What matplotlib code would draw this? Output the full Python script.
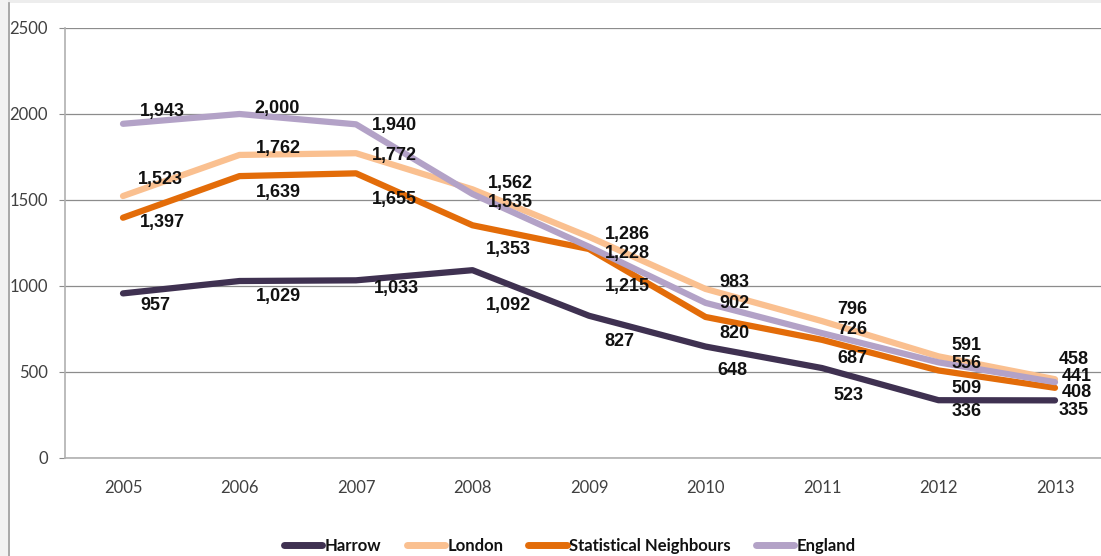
import matplotlib

matplotlib.use("Agg")
import matplotlib.pyplot as plt
from matplotlib.patches import Rectangle
from matplotlib.lines import Line2D

years = ["2005", "2006", "2007", "2008", "2009", "2010", "2011", "2012", "2013"]
harrow = [957, 1029, 1033, 1092, 827, 648, 523, 336, 335]
london = [1523, 1762, 1772, 1562, 1286, 983, 796, 591, 458]
stat_neighbours = [1397, 1639, 1655, 1353, 1215, 820, 687, 509, 408]
england = [1943, 2000, 1940, 1535, 1228, 902, 726, 556, 441]

# label offsets in pixels (dx right, dy down) relative to each point
off_harrow = [(32, 12), (39, 15), (40, 8), (36, 35), (30, 26), (27, 24), (26, 27), (28, 11), (19, 10)]
off_london = [(37, -17), (39, -6), (38, 2), (38, -6), (38, -2), (29, -6), (30, -12), (28, -11), (19, -20)]
off_sn = [(39, 5), (39, 16), (38, 26), (36, 24), (38, 37), (29, 17), (30, 19), (28, 18), (22, 5)]
off_england = [(39, -12), (38, -6), (38, 1), (38, 9), (38, 7), (29, 1), (30, -4), (28, 1), (22, -6)]

series = [
    ("Harrow", harrow, "#3f3151", off_harrow),
    ("London", london, "#fac090", off_london),
    ("Statistical Neighbours", stat_neighbours, "#e36c09", off_sn),
    ("England", england, "#b3a2c7", off_england),
]

W, H = 1101, 556
fig = plt.figure(figsize=(W / 100, H / 100), dpi=100)
fig.patch.set_facecolor("white")

# window chrome: light strips on top and left
fig.patches.append(Rectangle((0, 1 - 3 / H), 1, 3 / H, transform=fig.transFigure,
                             facecolor="#ededed", edgecolor="none", zorder=0))
fig.patches.append(Rectangle((0, 0), 8 / W, 1, transform=fig.transFigure,
                             facecolor="#f2f2f2", edgecolor="none", zorder=0))
fig.lines.append(Line2D([8.5 / W, 8.5 / W], [0, 1 - 3 / H], transform=fig.transFigure,
                        color="#9a9a9a", lw=1.2))

left_px, right_px = 64.75, 1113.25
top_px, bottom_px = 28, 458
ax = fig.add_axes([left_px / W, (H - bottom_px) / H, (right_px - left_px) / W, (bottom_px - top_px) / H])
ax.set_xlim(-0.5, 8.5)
ax.set_ylim(0, 2500)
ax.set_yticks([0, 500, 1000, 1500, 2000, 2500])
ax.set_yticklabels(["0", "500", "1000", "1500", "2000", "2500"])
ax.set_xticks(range(len(years)))
ax.set_xticklabels(years)
ax.grid(axis="y", color="#8c8c8c", lw=0.9)
ax.set_axisbelow(True)
for s in ["top", "right"]:
    ax.spines[s].set_visible(False)
ax.spines["left"].set_color("#b0b0b0")
ax.spines["bottom"].set_color("#b0b0b0")
ax.spines["left"].set_linewidth(1.2)
ax.spines["bottom"].set_linewidth(1.2)
ax.tick_params(axis="y", length=4.5, color="#8c8c8c", pad=7.5, labelsize=12, labelcolor="#404040")
ax.tick_params(axis="x", length=0, pad=15.5, labelsize=12, labelcolor="#404040")
for lbl in ax.get_xticklabels() + ax.get_yticklabels():
    lbl.set_fontfamily("Lato")

x = list(range(len(years)))
for name, vals, color, offs in series:
    ax.plot(x, vals, color=color, lw=4.5, solid_capstyle="round", solid_joinstyle="round",
            label=name, clip_on=False)

for name, vals, color, offs in series:
    for xi, v, (dx, dy) in zip(x, vals, offs):
        ax.annotate(f"{v:,}", (xi, v), xytext=(dx, -dy), textcoords="offset pixels",
                    ha="center", va="center", fontsize=13, fontweight="bold",
                    fontfamily="Liberation Sans", color="#111111", annotation_clip=False)

leg = fig.legend(loc="center", bbox_to_anchor=(570 / W, (H - 546) / H), ncol=4, frameon=False,
                 handlelength=2.3, handletextpad=0.15, columnspacing=1.5,
                 prop={"family": "Lato", "weight": "bold", "size": 12})
for line in leg.get_lines():
    line.set_linewidth(5)
    line.set_solid_capstyle("round")
for t in leg.get_texts():
    t.set_color("#111111")

fig.savefig("out.png", dpi=100)
